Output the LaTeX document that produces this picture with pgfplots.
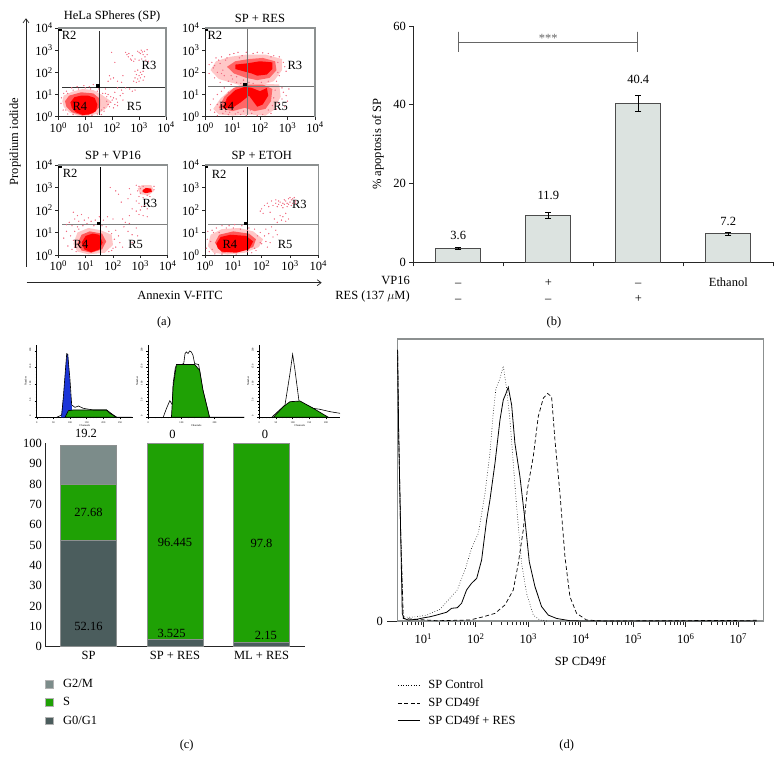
\documentclass[border=0pt]{standalone}
\usepackage{fontspec}
\setmainfont{Liberation Serif}
\usepackage{pgfplots}
\usetikzlibrary{arrows.meta}
\pgfplotsset{compat=1.18}

\definecolor{dotred}{HTML}{F06A80}
\definecolor{frameg}{HTML}{8C9090}
\definecolor{barfill}{HTML}{DCE3E0}
\definecolor{ctop}{HTML}{7C8C8A}
\definecolor{cmid}{HTML}{1FA105}
\definecolor{cbot}{HTML}{4B5D5D}
\definecolor{hblue}{HTML}{1B35D8}

\newcommand{\ff}{\fontsize{12.5}{14.5}\selectfont}

% flow cytometry panels: data in decades (log10)
\pgfplotsset{
  facs/.style={
    scale only axis, anchor=south west,
    xmin=0, xmax=4, ymin=0, ymax=4,
    axis x line=bottom, axis y line=left,
    axis line style={-, line width=0.8pt, black!85},
    xtick={0,1,2,3,4}, ytick={0,1,2,3,4},
    xticklabels={10\textsuperscript{0},10\textsuperscript{1},10\textsuperscript{2},10\textsuperscript{3},10\textsuperscript{4}},
    yticklabels={10\textsuperscript{0},10\textsuperscript{1},10\textsuperscript{2},10\textsuperscript{3},10\textsuperscript{4}},
    tick align=outside, major tick length=3pt,
    tick style={black!85, line width=0.6pt},
    xticklabel style={yshift=1pt}, yticklabel style={xshift=1pt},
    title style={at={(0.5,1)}, anchor=south, yshift=-4pt},
    after end axis/.code={\draw[frameg, line width=1.3pt] (rel axis cs:0,1)--(rel axis cs:1,1)--(rel axis cs:1,0);},
  },
  hist/.style={
    scale only axis, anchor=south west,
    width=96pt, height=72pt,
    axis x line=bottom, axis y line=left,
    axis line style={-, line width=0.7pt, black},
    ymin=0, ymax=217,
    tick align=outside, major tick length=2pt, minor tick length=1pt,
    tick style={black, line width=0.4pt},
    tick label style={font=\fontsize{2.6}{3}\selectfont},
    yticklabel style={rotate=90, xshift=1pt},
    xticklabel style={yshift=1pt},
    minor tick num=4,
    /pgf/number format/assume math mode=true,
    label style={font=\fontsize{2.8}{3}\selectfont},
    ylabel={Number}, xlabel={Channels},
    ylabel style={yshift=-4pt}, xlabel style={yshift=6pt},
  },
}
\newcommand{\blob}[2]{\addplot[draw=none, fill=#1, forget plot] coordinates {#2} --cycle;}
\newcommand{\speck}[1]{\addplot[only marks, dotred, mark=*, mark size=0.4pt, mark options={draw=none}, forget plot] coordinates {#1};}
\newcommand{\gate}[6]{%
  \addplot[#6, line width=0.8pt, forget plot] coordinates {(#1,#2) (#1,#3)};
  \addplot[#6, line width=0.8pt, forget plot] coordinates {(#4,#5) (3.98,#5)};}
\newcommand{\rmark}[4]{\addplot[only marks, mark=square*, mark size=1.3pt, black, forget plot] coordinates {(#1,#2) (#3,#4)};}

\begin{document}
\begin{tikzpicture}[font=\ff]
\path[use as bounding box] (0pt,0pt) rectangle (782pt,772pt);

% ---------- (a) ----------
\begin{axis}[facs, at={(58.3pt,655.3pt)}, width=107.7pt, height=88.7pt, title={HeLa SPheres (SP)}]
\blob{red!22}{(0.15,0.7)(0.2,0.95)(0.5,1.12)(0.9,1.25)(1.3,1.2)(1.6,1.0)(1.95,0.7)(1.8,0.4)(1.5,0.15)(1.1,0.03)(0.7,0.05)(0.4,0.2)(0.2,0.45)}
\blob{red!65}{(0.25,0.7)(0.4,0.95)(0.85,1.1)(1.3,1.05)(1.55,0.8)(1.55,0.45)(1.3,0.15)(0.9,0.05)(0.5,0.2)(0.3,0.45)}
\blob{red}{(0.45,0.65)(0.6,0.88)(0.85,0.95)(1.1,0.95)(1.35,0.85)(1.45,0.55)(1.4,0.25)(1.15,0.1)(0.9,0.08)(0.65,0.2)(0.5,0.4)}
\speck{(1.98,2.9)(2.1,2.45)(2.5,2.9)(2.55,2.8)(2.6,2.7)(2.62,2.85)(2.68,2.6)(2.72,2.55)(2.75,2.75)(2.8,2.5)(2.85,2.6)(2.95,2.95)(3.0,2.9)(3.05,2.85)(3.08,3.0)(3.12,2.92)(3.15,2.8)(3.2,2.95)(3.22,2.7)(3.3,3.02)(3.3,2.8)(3.25,2.55)(3.1,2.6)(3.0,2.55)(3.35,2.5)
(2.85,2.05)(2.95,2.1)(3.05,2.0)(3.15,2.05)(2.9,1.9)(3.0,1.85)(3.1,1.9)(2.85,1.75)(2.95,1.7)(3.05,1.75)(3.2,1.8)(2.8,1.6)(2.9,1.55)(3.0,1.6)(3.15,1.65)
(1.9,1.85)(1.95,1.7)(2.05,1.75)(2.2,1.6)(2.35,1.55)(1.85,1.6)(2.4,1.85)
(2.2,1.3)(2.35,1.2)(2.5,1.3)(2.65,1.25)(2.75,1.15)(2.85,1.2)(2.1,1.1)(2.4,1.05)
(1.75,1.05)(1.85,1)(1.95,0.9)(2.05,0.85)(2.15,0.8)(1.8,0.7)(1.95,0.65)(2.1,0.55)(2.2,0.5)(1.9,0.45)(2.05,0.4)(2.2,0.65)(2.3,0.95)(2.4,0.75)
(0.3,1.15)(0.5,1.3)(0.7,1.35)(0.95,1.4)(1.15,1.35)(1.3,1.45)(0.2,1.05)(1.5,1.25)(1.75,1.25)(0.12,0.85)(0.1,0.6)(0.18,0.3)(0.35,0.12)(1.7,0.25)(1.6,0.1)
(0.35,1.05)(0.55,1.2)(0.75,1.25)(1.0,1.3)(1.2,1.25)(1.45,1.15)(1.65,1.05)(1.8,0.9)(2.0,0.75)(1.85,0.55)(1.7,0.4)(1.6,0.3)(1.45,0.12)(1.25,0.06)(0.55,0.1)(0.28,0.3)}
\gate{1.52}{0.08}{3.88}{0.14}{1.32}{black!80}
\rmark{0.06}{3.96}{1.46}{1.4}
\node at (axis cs:0.4,3.68) {R2};
\node at (axis cs:3.37,2.33) {R3};
\node at (axis cs:0.8,0.48) {R4};
\node at (axis cs:2.82,0.48) {R5};
\end{axis}

\begin{axis}[facs, at={(205pt,655.3pt)}, width=110pt, height=88.7pt, title={SP + RES}]
\blob{red!22}{(0.2,2.1)(0.4,2.5)(0.9,2.7)(1.5,2.8)(2.2,2.8)(2.8,2.6)(2.8,2.1)(2.5,1.6)(2.0,1.4)(1.2,1.45)(0.5,1.7)}
\blob{red!22}{(0.3,0.35)(0.55,0.8)(0.9,1.2)(1.3,1.45)(2,1.5)(2.7,1.45)(2.75,0.9)(2.5,0.3)(2.2,0.05)(1.6,0.1)(1,0.05)(0.5,0.1)}
\blob{red!60}{(0.8,2.25)(1.1,2.5)(1.6,2.6)(2.1,2.65)(2.55,2.5)(2.6,2.1)(2.35,1.75)(1.9,1.65)(1.5,1.75)(1.05,1.95)}
\blob{red!60}{(0.5,0.4)(0.7,0.9)(1.05,1.3)(1.5,1.45)(2.1,1.45)(2.45,1.25)(2.4,0.7)(2.2,0.35)(1.8,0.25)(1.45,0.4)(1.0,0.25)}
\blob{red}{(1.1,2.35)(1.5,2.4)(2.0,2.5)(2.45,2.45)(2.45,2.15)(2.25,1.9)(1.9,1.85)(1.7,1.95)(1.4,2.05)(1.1,2.15)}
\blob{red}{(0.65,0.4)(0.8,0.85)(1.1,1.2)(1.45,1.35)(1.7,1.3)(2.0,1.15)(2.25,1.3)(2.3,0.95)(2.1,0.55)(1.9,0.45)(1.75,0.7)(1.6,0.95)(1.3,0.65)(1.0,0.4)}
\speck{(0.15,2.35)(0.25,2.45)(0.3,2.2)(0.4,2.65)(0.45,2.0)(0.55,2.4)(0.6,2.7)(0.7,1.85)(0.75,2.55)(0.85,1.6)(0.9,2.8)(1.0,1.7)(1.05,2.85)(1.2,2.9)(1.3,1.5)(1.35,2.75)(1.5,2.9)(1.6,1.55)(1.75,2.85)(1.9,2.9)(2.1,2.88)(2.3,2.85)(2.5,2.75)(2.7,2.7)(2.85,2.45)(2.9,2.25)(2.95,2.05)(2.7,1.85)(2.6,1.6)(0.55,1.55)(0.35,1.75)(0.15,1.95)
(0.2,0.55)(0.3,0.8)(0.45,1.0)(0.6,1.15)(0.7,1.3)(0.95,1.45)(1.15,1.55)(2.8,1.3)(2.85,1.1)(2.8,0.8)(2.7,0.6)(2.6,0.35)(2.4,0.15)(2.3,0.3)(2.1,0.1)(1.9,0.05)(1.7,0.15)(1.5,0.05)(1.3,0.1)(1.1,0.12)(0.85,0.1)(0.65,0.15)(0.45,0.05)(0.35,0.2)(0.2,0.3)(2.95,0.95)(3.05,1.25)(3.0,0.7)(2.9,0.45)
(0.35,2.3)(0.5,2.55)(0.65,2.1)(0.8,2.65)(0.6,1.95)(0.95,1.85)(1.25,2.65)(1.15,1.8)(1.4,1.65)(1.75,1.5)(2.05,1.55)(2.3,1.6)(2.65,2.0)(2.65,2.45)(2.4,2.7)
(0.45,0.55)(0.55,0.35)(0.75,0.25)(0.9,0.2)(1.2,0.2)(1.4,0.25)(1.65,0.3)(2.45,0.5)(2.5,0.85)(2.55,1.2)(0.85,1.1)(0.75,0.75)(0.6,0.6)}
\gate{1.54}{0.08}{4}{0.11}{1.38}{black!55}
\rmark{0.04}{3.96}{1.45}{1.46}
\node at (axis cs:0.36,3.68) {R2};
\node at (axis cs:3.27,2.33) {R3};
\node at (axis cs:0.79,0.48) {R4};
\node at (axis cs:2.75,0.48) {R5};
\end{axis}

\begin{axis}[facs, at={(58.3pt,517pt)}, width=109.4pt, height=90pt, title={SP + VP16}]
\blob{red!22}{(0.55,0.5)(0.7,1.0)(1.1,1.2)(1.55,1.1)(1.95,0.9)(2.0,0.45)(1.7,0.1)(1.1,0.03)(0.7,0.15)}
\blob{red!65}{(0.7,0.5)(0.85,0.9)(1.15,1.05)(1.6,0.95)(1.75,0.6)(1.6,0.25)(1.2,0.1)(0.85,0.2)}
\blob{red}{(0.85,0.55)(1.0,0.85)(1.25,0.95)(1.5,0.9)(1.62,0.55)(1.5,0.25)(1.2,0.12)(0.95,0.25)}
\blob{red!22}{(2.9,2.95)(3.05,3.1)(3.4,3.1)(3.5,2.85)(3.3,2.65)(3.0,2.7)}
\blob{red}{(3.08,2.88)(3.2,2.98)(3.4,2.95)(3.42,2.8)(3.2,2.75)(3.08,2.8)}
\speck{(2.85,3.1)(2.95,3.05)(3.0,2.95)(2.9,2.85)(3.0,2.75)(3.1,3.05)(2.95,2.6)(3.1,2.55)(3.25,2.65)(3.35,2.6)(3.5,2.9)(3.5,3.05)(1.9,3.0)(2.1,2.85)(2.2,2.7)(2.6,2.95)(2.65,2.7)(2.55,2.5)(2.3,2.35)(2.85,2.4)(2.95,2.3)(3.05,2.15)(3.15,2.2)(3.25,2.05)(3.0,2.0)(2.85,1.95)(2.7,2.05)(2.95,1.8)(3.1,1.75)(3.25,1.7)(2.6,1.75)(2.35,1.6)(2.45,1.45)(2.6,1.4)(1.65,1.55)(1.8,1.7)(2.0,1.6)
(0.55,1.9)(0.7,1.75)(0.85,1.8)(0.6,1.6)(0.4,1.45)(0.75,1.5)(0.95,1.55)(1.1,1.65)(1.2,1.5)(1.35,1.55)(1.5,1.7)(0.3,1.35)(0.5,1.3)(0.7,1.25)(0.9,1.3)(1.05,1.4)(1.3,1.3)(1.45,1.4)(1.6,1.3)(1.75,1.25)
(0.2,0.75)(0.3,1.05)(0.45,0.85)(0.55,0.65)(0.35,0.4)(0.5,0.25)(2.1,1.1)(2.2,0.85)(2.25,0.55)(2.4,1.25)(2.55,1.05)(2.7,0.9)(2.85,1.2)(2.9,0.85)(2.35,0.35)(2.7,0.55)(2.1,0.35)(1.95,0.2)(1.85,1.05)
(0.6,1.05)(0.75,1.15)(1.95,0.95)(2.05,0.7)(2.0,0.3)(1.85,0.15)(0.6,0.35)(0.65,0.15)}
\gate{1.54}{0}{3.9}{0.15}{1.36}{black!50}
\addplot[black, line width=0.9pt, forget plot] coordinates {(1.54,0) (1.54,3.9)};
\rmark{0.05}{3.95}{1.46}{1.41}
\node at (axis cs:0.43,3.63) {R2};
\node at (axis cs:3.35,2.3) {R3};
\node at (axis cs:0.83,0.47) {R4};
\node at (axis cs:2.83,0.47) {R5};
\end{axis}

\begin{axis}[facs, at={(205pt,517pt)}, width=113.3pt, height=90pt, title={SP + ETOH}]
\blob{red!22}{(0.1,0.4)(0.2,0.9)(0.6,1.15)(1.2,1.2)(1.7,1.05)(2.05,0.7)(1.9,0.35)(1.4,0.1)(0.8,0.02)(0.3,0.1)}
\blob{red!65}{(0.35,0.55)(0.5,0.9)(1,1.05)(1.55,0.95)(1.8,0.7)(1.7,0.35)(1.2,0.15)(0.6,0.1)}
\blob{red}{(0.4,0.5)(0.55,0.8)(0.9,0.9)(1.45,0.85)(1.7,0.6)(1.55,0.25)(1.1,0.1)(0.6,0.15)(0.45,0.3)}
\speck{(2.1,2.2)(2.2,2.3)(2.25,2.15)(2.35,2.4)(2.4,2.2)(2.5,2.3)(2.55,2.15)(2.6,2.25)(2.65,2.35)(2.7,2.2)(2.75,2.3)(2.8,2.25)(2.85,2.4)(2.9,2.3)(2.95,2.5)(3.0,2.35)(3.05,2.45)(3.1,2.3)(3.15,2.55)(3.2,2.4)(2.9,2.15)(3.05,2.2)(2.75,2.1)(2.5,2.45)(3.0,2.55)(3.1,2.5)(2.6,2.4)(2.8,2.45)(3.2,2.3)(2.95,2.25)
(1.95,1.95)(2.05,1.85)(2.0,2.05)(2.3,1.9)(2.45,1.6)(2.55,1.45)(2.65,1.75)(2.75,1.7)(2.85,1.85)(2.7,1.55)(2.85,1.5)(2.95,1.6)(2.35,1.25)(2.5,1.1)(2.15,1.15)(2.25,0.95)(2.4,0.8)(2.1,0.85)(2.3,0.55)(2.55,0.9)
(0.1,1.05)(0.25,1.1)(0.4,1.2)(0.6,1.3)(0.85,1.3)(1.05,1.35)(1.3,1.3)(1.55,1.2)(1.75,1.15)(1.95,1.0)(2.0,0.5)(0.08,0.7)(0.05,0.3)(0.15,0.15)(0.35,0.05)(0.6,0.04)(1.8,0.2)(1.65,0.1)(1.1,0.04)
(0.2,0.6)(0.25,0.25)(0.3,1.0)(0.5,1.0)(0.75,1.2)(1.0,1.2)(1.25,1.15)(1.5,1.1)(1.85,0.85)(1.95,0.55)(1.75,0.3)(1.5,0.15)(2.15,0.6)(2.2,0.35)}
\gate{1.49}{0}{3.9}{0.12}{1.36}{black!45}
\addplot[black, line width=0.9pt, forget plot] coordinates {(1.49,0) (1.49,3.9)};
\rmark{0.04}{3.95}{1.44}{1.42}
\node at (axis cs:0.5,3.58) {R2};
\node at (axis cs:3.33,2.25) {R3};
\node at (axis cs:0.88,0.47) {R4};
\node at (axis cs:2.83,0.47) {R5};
\end{axis}

\draw[-{Straight Barb[length=4pt,width=6pt]}, black!85, line width=0.7pt] (26pt,505.3pt)--(26pt,753.7pt);
\draw[-{Straight Barb[length=4pt,width=6pt]}, black!85, line width=0.7pt] (26.7pt,489.3pt)--(321.7pt,489.3pt);
\node[rotate=90] at (15pt,630.3pt) {Propidium iodide};
\node at (180pt,477pt) {Annexin V-FITC};
\node at (164pt,450pt) {(a)};

% ---------- (b) ----------
\begin{axis}[scale only axis, anchor=south west, at={(413.3pt,509.7pt)}, width=360pt, height=236.3pt,
  ybar, bar width=45pt, bar shift=0pt,
  xmin=-0.5, xmax=3.5, ymin=0, ymax=60,
  axis lines=left, axis line style={-, line width=0.8pt, black!85},
  ytick={0,20,40,60},
  xtick={-0.5,0.5,1.5,2.5,3.5},
  x tick label as interval,
  xticklabels={{\strut--\\\strut--},{\strut+\\\strut--},{\strut--\\\strut+},{\strut Ethanol\\\strut}},
  xticklabel style={align=center, font=\fontsize{12.5}{16.3}\selectfont, yshift=-5pt},
  major tick length=4pt,
  tick style={black!85, line width=0.7pt},
  tick align=outside,
  ylabel={\% apoptosis of SP},
  ylabel style={at={(axis description cs:-0.098,0.5)}, anchor=center},
  /pgf/number format/assume math mode=true,
  clip=false,
]
\addplot[fill=barfill, draw=black!70, line width=1pt,
  error bars/.cd, y dir=both, y explicit,
  error bar style={black, line width=0.7pt}, error mark options={black, rotate=90, mark size=3pt, line width=0.7pt}]
  coordinates {(0,3.6)+-(0,0.2) (1,11.9)+-(0,0.7) (2,40.4)+-(0,2) (3,7.2)+-(0,0.4)};
\addplot[black!60, line width=0.9pt, forget plot, sharp plot] coordinates {(0.0,53.5) (0.0,58.5) (0.0,55.9) (1.99,55.9) (1.99,58.5) (1.99,53.5)};
\node[text=black!60] at (axis cs:1,56.8) {***};
\node at (axis cs:0,6.8) {3.6};
\node at (axis cs:1,16.9) {11.9};
\node at (axis cs:2,46.5) {40.4};
\node at (axis cs:3,10.3) {7.2};
\node[anchor=east] at (axis cs:-0.5,-4.5) {VP16};
\node[anchor=east] at (axis cs:-0.5,-8.7) {RES (137 $\mu$M)};
\end{axis}
\node at (554pt,450pt) {(b)};

% ---------- (c) histograms ----------
\begin{axis}[hist, at={(36.7pt,354.7pt)}, xmin=0, xmax=288, xtick={0,50,100,150,200,250}, ytick={0,50,100,150,200}]
\addplot[draw=none, fill=hblue, forget plot] coordinates {(73,0)(80,62)(90,190)(94,190)(102,72)(108,0)} --cycle;
\addplot[draw=black, line width=0.7pt, fill=cmid, forget plot] coordinates {(85,0)(95,20)(110,22)(210,22)(220,12)(240,0)} --cycle;
\addplot[black, line width=0.6pt, forget plot] coordinates {(60,0)(75,7)(80,62)(90,192)(93,190)(100,112)(105,37)(115,30)(125,34)(140,27)(170,22)(210,22)(230,7)(240,0)(285,0)};
\end{axis}
\begin{axis}[hist, at={(148.3pt,354.7pt)}, xmin=0, xmax=290, xtick={0,100,200}, ytick={0,50,100,150,200}]
\addplot[black, line width=0.6pt, forget plot] coordinates {(45,0)(55,27)(65,50)(73,37)(75,102)(82,152)(107,162)(111,192)(115,197)(120,192)(125,200)(130,197)(135,187)(140,162)(152,159)(165,82)(185,0)(290,0)};
\addplot[draw=black, line width=0.7pt, fill=cmid, forget plot] coordinates {(70,0)(75,92)(85,159)(140,159)(155,142)(165,82)(185,0)} --cycle;
\end{axis}
\begin{axis}[hist, at={(259.3pt,354.7pt)}, width=80.7pt, xmin=0, xmax=242, xtick={0,50,100,150,200}, ytick={0,50,100,150,200}]
\addplot[black, line width=0.6pt, forget plot] coordinates {(37,0)(77,37)(92,132)(100,190)(107,142)(119,49)(162,27)(182,24)(212,17)(242,12)};
\addplot[draw=black, line width=0.7pt, fill=cmid, forget plot] coordinates {(42,0)(72,32)(92,47)(122,49)(162,27)(207,0)} --cycle;
\end{axis}

% ---------- (c) stacked bars ----------
\begin{axis}[scale only axis, anchor=south west, at={(45.3pt,125.3pt)}, width=259.7pt, height=203.4pt,
  ybar stacked, bar width=56pt,
  xmin=-0.5, xmax=2.503, ymin=0, ymax=100,
  axis lines=left, axis line style={-, line width=0.8pt, black!85},
  ytick={0,10,...,100}, xtick={0,1,2},
  xticklabels={SP,SP + RES,ML + RES},
  major tick length=0pt,
  xticklabel style={yshift=-1pt},
  /pgf/number format/assume math mode=true,
  clip=false,
  reverse legend,
  legend cell align=left,
  legend style={draw=none, fill=none, at={(rel axis cs:0,0)}, anchor=north west, xshift=-4pt, yshift=-28.5pt, row sep=4.5pt, font=\ff},
  legend image code/.code={\draw[#1, draw=black!30] (0pt,-3.5pt) rectangle (8pt,4pt); \path (16pt,0pt);},
  after end axis/.code={
    \node at (axis cs:0,65.9) {27.68};
    \node at (axis cs:0,10.2) {52.16};
    \node at (axis cs:1,51.3) {96.445};
    \node at (axis cs:0.96,6.6) {3.525};
    \node at (axis cs:2,50.6) {97.8};
    \node at (axis cs:2.05,5.3) {2.15};
    \node at (axis cs:-0.03,104.6) {19.2};
    \node at (axis cs:0.97,104.6) {0};
    \node at (axis cs:2.04,104.6) {0};
  },
]
\addplot[fill=cbot, draw=frameg, line width=0.5pt] coordinates {(0,52.16) (1,3.525) (2,2.15)};
\addplot[fill=cmid, draw=frameg, line width=0.5pt] coordinates {(0,27.68) (1,96.445) (2,97.8)};
\addplot[fill=ctop, draw=frameg, line width=0.5pt] coordinates {(0,19.2) (1,0) (2,0)};
\legend{G0/G1,S,G2/M}
\end{axis}
\node at (186.7pt,26.3pt) {(c)};

% ---------- (d) ----------
\begin{axis}[scale only axis, anchor=south west, at={(397.3pt,151pt)}, width=366pt, height=282pt,
  xmode=log, log basis x=10,
  xmin=3.2, xmax=30000000, ymin=0, ymax=100,
  axis line style={frameg, line width=1.1pt},
  xtick={10,100,1000,10000,100000,1000000,10000000},
  minor xtick={4,5,6,7,8,9,20,30,40,50,60,70,80,90,200,300,400,500,600,700,800,900,2000,3000,4000,5000,6000,7000,8000,9000,20000,30000,40000,50000,60000,70000,80000,90000,200000,300000,400000,500000,600000,700000,800000,900000,2000000,3000000,4000000,5000000,6000000,7000000,8000000,9000000,20000000},
  xticklabels={10\textsuperscript{1},10\textsuperscript{2},10\textsuperscript{3},10\textsuperscript{4},10\textsuperscript{5},10\textsuperscript{6},10\textsuperscript{7}},
  ytick=\empty,
  extra y ticks={0}, extra y tick labels={0},
  extra y tick style={major tick length=10pt},
  xtick pos=bottom, ytick pos=left,
  tick align=outside,
  major tick length=6pt, minor tick length=3.5pt,
  tick style={black!85, line width=0.6pt},
  xticklabel style={yshift=-3pt},
  yticklabel style={xshift=-1pt},
  /pgf/number format/assume math mode=true,
  xlabel={SP CD49f},
  xlabel style={yshift=-6pt},
  clip=true,
  legend cell align=left,
  legend style={draw=none, fill=none, at={(rel axis cs:0,0)}, anchor=north west, xshift=-3pt, yshift=-55pt, row sep=3.5pt, font=\ff},
  legend image code/.code={\draw[#1] (0pt,0pt) -- (22pt,0pt); \path (28pt,0pt);},
]
\addplot[black, line width=0.6pt, dotted] coordinates {(3.24,96.1)(3.39,67.7)(3.7,32.3)(4.16,1.5)(5.18,1.3)(7.47,1.5)(11.6,2.1)(20.7,4.1)(29.9,7.4)(44.4,11)(62.2,18.1)(83.3,25.8)(112,31.1)(150,45.3)(186,59.5)(215,73.6)(242,82.5)(289,86)(334,90.4)(386,82.5)(448,71.3)(518,55.9)(600,40.5)(747,20.4)(929,9.8)(1245,2.1)(1667,0.35)(2233,0)};
\addlegendentry{SP Control}
\addplot[black, line width=0.7pt, dash pattern=on 4pt off 2.5pt] coordinates {(3.24,96.1)(3.39,67.7)(3.7,32.3)(4.16,0.9)(17.9,0.1)(77.4,0.35)(139,1.5)(232,2.7)(360,5.7)(518,11)(645,20.4)(803,32.3)(958,46.5)(1245,58.3)(1549,72.5)(1932,79)(2334,80.7)(2781,79.5)(3219,64.2)(4011,45.3)(4993,22.8)(6220,8.6)(8336,2.7)(12920,0.35)(26850,0)(22300000,0.24)};
\addlegendentry{SP CD49f}
\addplot[black, line width=0.8pt] coordinates {(3.24,96.1)(3.39,67.7)(3.7,32.3)(3.98,2.7)(4.28,0.9)(5.18,0.35)(7.47,0.6)(10,1.1)(13.4,1.5)(17.9,2.1)(27.8,3.1)(34.6,4.5)(44.4,4.7)(53.7,6.3)(66.8,11)(83.3,13.4)(104,15.1)(129,21.6)(161,35.8)(186,42.9)(232,55.9)(289,71.3)(334,78.4)(376,80.7)(416,82.9)(482,76.6)(557,63)(694,51.2)(865,35.8)(1045,21)(1340,12.2)(1795,5.1)(2404,2.1)(3467,0.9)(6220,0.1)(11170,0)(22300000,0)};
\addlegendentry{SP CD49f + RES}
\end{axis}
\node at (566.7pt,27pt) {(d)};
\end{tikzpicture}
\end{document}
